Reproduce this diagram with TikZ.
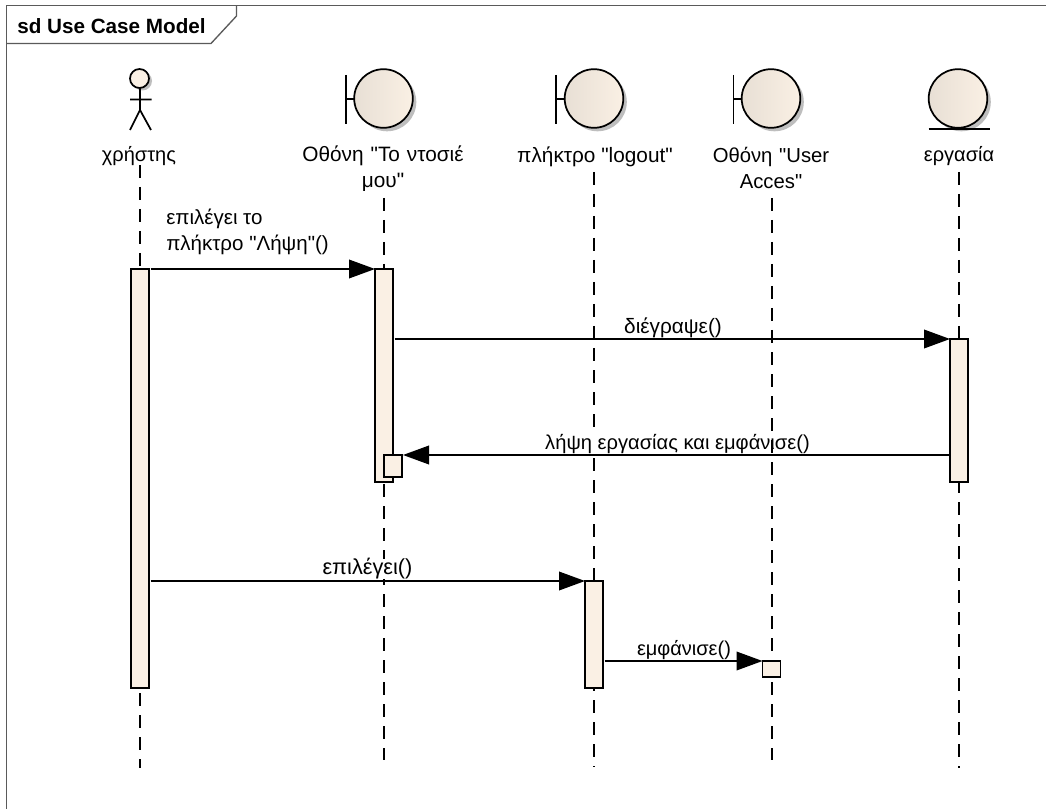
\documentclass[tikz,border=0pt]{standalone}
\usepackage{fontspec}
\setmainfont{Liberation Sans}[Ligatures=TeXOff]
\usetikzlibrary{arrows.meta,calc}
\definecolor{fillc}{RGB}{250,240,228}
\definecolor{shadowc}{RGB}{190,190,190}
\definecolor{framec}{RGB}{90,90,90}
\tikzset{
 x=0.75pt,y=-0.75pt,
 lifeline/.style={line width=1.4pt,dash pattern=on 10.1pt off 6.4pt,black},
 activation/.style={draw=black,line width=1.3pt,fill=fillc,inner sep=0pt,outer sep=0pt,minimum width=13.5pt},
 msg/.style={line width=1.1pt,-{Triangle[length=19.5pt,width=14pt,sharp]}},
 lbl/.style={inner sep=0pt,align=center},
 msglbl/.style={inner sep=0pt},
 sym/.style={line width=1.3pt,black},
}
\newcommand{\fs}[1]{\fontsize{#1}{19.5}\selectfont}
\begin{document}
\begin{tikzpicture}
\useasboundingbox (0,0) rectangle (1046,809);
\fill[white] (0,0) rectangle (1046,809);
% frame
\draw[framec,line width=1pt] (6.5,809) -- (6.5,5.5) -- (1046,5.5);
\node[inner sep=0pt] (title) at (111.5,26) {\fontsize{15.5}{18}\selectfont\bfseries sd Use Case Model};
\draw[framec,line width=1pt] (6.5,43.5) -- (211,43.5) -- (236.5,16) -- (236.5,5.5);
% lifeline ends
\coordinate (hTop) at (140,165);
\coordinate (hBot) at (140,768);
\coordinate (sTop) at (384,198);
\coordinate (sBot) at (384,760);
\coordinate (lTop) at (594,172);
\coordinate (lBot) at (594,767);
\coordinate (uTop) at (772,198);
\coordinate (uBot) at (772,760);
\coordinate (eTop) at (959,172);
\coordinate (eBot) at (959,768);
\draw[lifeline] (hTop) -- (hBot);
\draw[lifeline] (sTop) -- (sBot);
\draw[lifeline] (lTop) -- (lBot);
\draw[lifeline] (eTop) -- (eBot);
% labels that mask lifelines
\node[msglbl,fill=white,font=\fs{15.1}] (m3) at (677.5,444) {λήψη εργασίας και εμφάνισε()};
\node[msglbl,fill=white,font=\fs{16.3}] (m4) at (367.5,569) {επιλέγει()};
\draw[lifeline] (uTop) -- (uBot);
% actor
\fill[shadowc] (142.5,81) circle (9.5);
\draw[sym,fill=fillc] (139.5,78.5) circle (9.5);
\draw[sym] (140,88) -- (140,110) (130,99.5) -- (151.5,99.5) (130,130) -- (140,110) -- (151,130);
% boundary symbols
\foreach \cx/\bx in {383.5/346,594/556,771/733.5}{
 \fill[shadowc] (\cx+3.5,102) circle (29.3);
 \shade[left color=fillc!85!gray,right color=fillc] (\cx,98.5) circle (29.3);
 \draw[black,line width=1.3pt] (\cx,98.5) circle (29.3);
 \draw[sym] (\bx,75) -- (\bx,124) (\bx,99) -- (\cx-29.3,99);
}
% entity
\fill[shadowc] (961.5,102) circle (29.3);
\shade[left color=fillc!85!gray,right color=fillc] (958,98.5) circle (29.3);
\draw[black,line width=1.3pt] (958,98.5) circle (29.3);
\draw[sym] (928.7,129) -- (990,129);
% names
\node[lbl,font=\fs{15}] (nh) at (139,156) {χρήστης};
\node[lbl,font=\fs{15.6},text width=170pt] (ns) at (383,169) {Οθόνη "Το ντοσιέ\\μου"};
\node[lbl,font=\fs{15.6}] (nl) at (595,157) {πλήκτρο "logout"};
\node[lbl,font=\fs{15.2},text width=120pt] (nu) at (771,168) {Οθόνη "User\\Acces"};
\node[lbl,font=\fs{15}] (ne) at (959,156) {εργασία};
% activations
\node[activation,minimum height=314.25pt] (a1) at (140,478.5) {};
\node[activation,minimum height=159.75pt] (a2) at (384,375.5) {};
\node[activation,minimum height=107.25pt] (a3) at (959,410.5) {};
\node[activation,minimum height=16.5pt] (a4) at (393,466) {};
\node[activation,minimum height=80.25pt] (a5) at (594,634.5) {};
\node[activation,minimum height=12pt] (a6) at (771.5,669) {};
% messages
\draw[msg] ($(a1.north east)+(1.5,0)$) -- (a2.north west);
\draw[msg] (a2.east |- a3.north) ++(1.5,0) -- (a3.north west);
\draw[msg] (a3.west |- a4.north) -- ($(a4.north east)+(1,0)$);
\draw[msg] (a1.east |- a5.north) ++(1.5,0) -- (a5.north west);
\draw[msg] (a5.east |- a6.north) ++(1.5,0) -- (a6.north west);
% message labels
\node[msglbl,anchor=base west,align=left,font=\fs{15.4}] (m1) at (166,251) {επιλέγει το\\πλήκτρο "Λήψη"()};
\node[msglbl,font=\fs{15.6}] (m2) at (673,328) {διέγραψε()};
\node[msglbl,font=\fs{15}] (m5) at (684,650) {εμφάνισε()};
\end{tikzpicture}
\end{document}
